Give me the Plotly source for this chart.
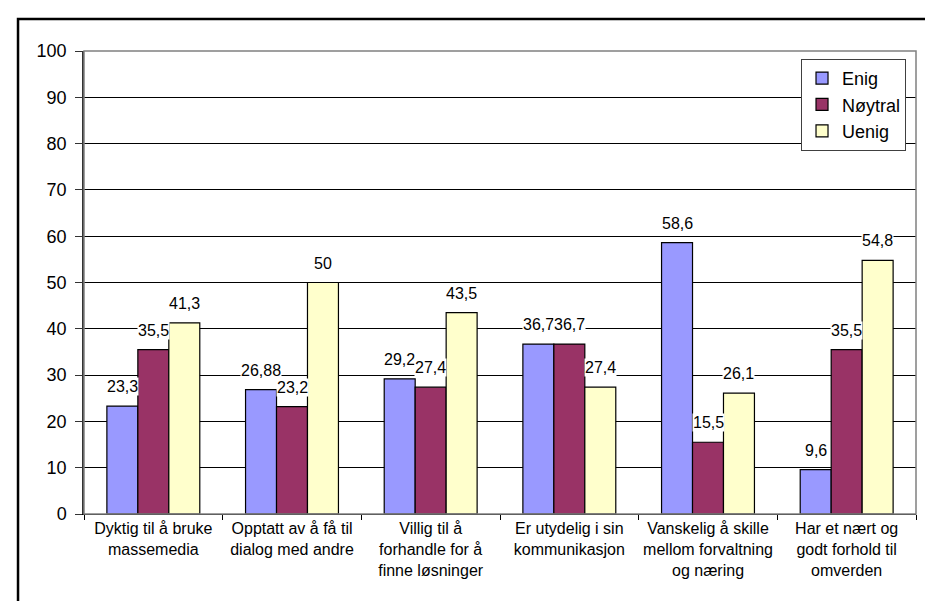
import plotly.graph_objects as go

categories = [
    "Dyktig til å bruke<br>massemedia",
    "Opptatt av å få til<br>dialog med andre",
    "Villig til å<br>forhandle for å<br>finne løsninger",
    "Er utydelig i sin<br>kommunikasjon",
    "Vanskelig å skille<br>mellom forvaltning<br>og næring",
    "Har et nært og<br>godt forhold til<br>omverden",
]
enig = [23.3, 26.88, 29.2, 36.7, 58.6, 9.6]
noytral = [35.5, 23.2, 27.4, 36.7, 15.5, 35.5]
uenig = [41.3, 50, 43.5, 27.4, 26.1, 54.8]
series_names = ["Enig", "Nøytral", "Uenig"]
series_colors = ["#9999FF", "#993366", "#FFFFCC"]
y_ticks = [0, 10, 20, 30, 40, 50, 60, 70, 80, 90, 100]

FONT = "Arial, Liberation Sans, sans-serif"
BARGAP = 0.33

fig = go.Figure()
all_series = [enig, noytral, uenig]
for k, (name, vals, col) in enumerate(zip(series_names, all_series, series_colors)):
    fig.add_trace(go.Bar(
        x=categories, y=vals, name=name, legendgroup=name,
        marker=dict(color=col, line=dict(color="black", width=1.2)),
    ))

# data labels with white background, centred over each bar
barw = (1 - BARGAP) / 3
for k, vals in enumerate(all_series):
    for i, v in enumerate(vals):
        fig.add_annotation(
            x=i + (k - 1) * barw, y=v, xref="x", yref="y",
            text=f"{v:g}".replace(".", ","),
            showarrow=False, yanchor="bottom", yshift=10,
            bgcolor="white", borderpad=0,
            font=dict(family=FONT, size=16, color="black"),
        )

# plot-area border (grey) and outer chart border
fig.add_shape(type="rect", xref="paper", yref="paper", x0=0, x1=1, y0=0, y1=1,
              line=dict(color="#808080", width=1.5), layer="above")
fig.add_shape(type="rect", xref="paper", yref="paper",
              x0=-0.0793, x1=1.06, y0=-0.26, y1=1.069,
              line=dict(color="black", width=2.5), layer="above")

fig.update_layout(
    width=933, height=601,
    margin=dict(l=76, r=25, t=43, b=95, autoexpand=False),
    paper_bgcolor="white", plot_bgcolor="white",
    barmode="group", bargap=BARGAP, bargroupgap=0,
    font=dict(family=FONT, size=16, color="black"),
    showlegend=True,
    legend=dict(
        x=0.988, y=0.983, xanchor="right", yanchor="top",
        bgcolor="white", bordercolor="#404040", borderwidth=1,
        font=dict(family=FONT, size=18, color="black"),
        tracegroupgap=8, traceorder="normal", itemwidth=30,
    ),
    xaxis=dict(
        showgrid=False, showline=True, linecolor="black", linewidth=1.2,
        ticks="outside", tickson="boundaries", ticklen=5, tickcolor="black",
        tickangle=0, automargin=False,
        tickfont=dict(family=FONT, size=16, color="black"),
    ),
    yaxis=dict(
        range=[0, 100], tickvals=y_ticks, showgrid=True, gridcolor="black", gridwidth=1,
        showline=True, linecolor="#333333", linewidth=1.5,
        ticks="outside", ticklen=7, tickcolor="#333333", automargin=False,
        ticklabelstandoff=5,
        tickfont=dict(family=FONT, size=18, color="black"),
        zeroline=False,
    ),
)

fig.write_html("out.html")
